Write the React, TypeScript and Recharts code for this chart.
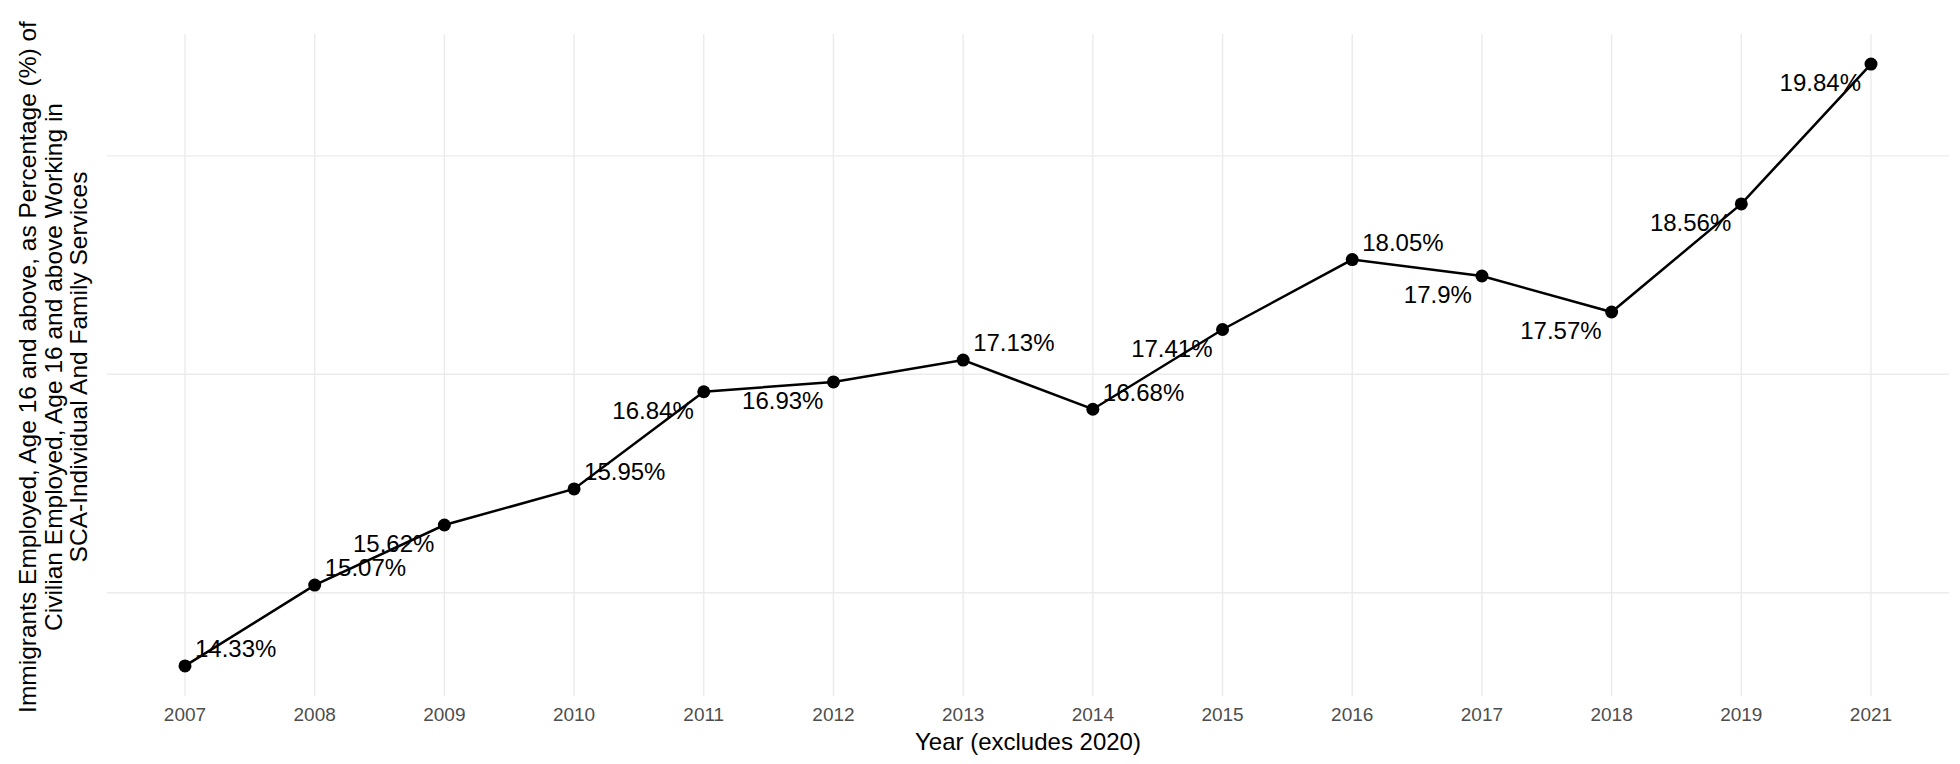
import React from 'react';
import { LineChart, Line, XAxis, YAxis, ReferenceLine, LabelList } from 'recharts';

// Share of employed immigrants (16+) working in SCA-Individual and Family Services, by year
const years = ['2007', '2008', '2009', '2010', '2011', '2012', '2013', '2014', '2015', '2016', '2017', '2018', '2019', '2021'];
const shares = [14.33, 15.07, 15.62, 15.95, 16.84, 16.93, 17.13, 16.68, 17.41, 18.05, 17.9, 17.57, 18.56, 19.84];
const yBreaks = [15, 17, 19];

// label placement per point: 'ar' = above right, 'bl' = below left
const labelSide = ['ar', 'ar', 'bl', 'ar', 'bl', 'bl', 'ar', 'ar', 'bl', 'ar', 'bl', 'bl', 'bl', 'bl'];

const yTitleLines = [
  'Immigrants Employed, Age 16 and above, as Percentage (%) of',
  'Civilian Employed, Age 16 and above Working in',
  'SCA-Individual And Family Services',
];

const FONT = '"Liberation Sans", Arial, Helvetica, sans-serif';
const WIDTH = 1960;
const HEIGHT = 764;
const GRID = '#ebebeb';

const data = years.map((year, i) => ({ year, value: shares[i] }));

// ggplot-style 5% expansion around the data range
const lo = Math.min(...shares);
const hi = Math.max(...shares);
const pad = (hi - lo) * 0.05;
const yDomain = [lo - pad, hi + pad];

const renderLabel = (props: any) => {
  const { x, y, value, index } = props;
  const above = labelSide[index] === 'ar';
  return (
    <text
      x={above ? x + 10 : x - 10}
      y={above ? y - 17 : y + 19}
      dy="0.35em"
      textAnchor={above ? 'start' : 'end'}
      fontSize={24}
      fontFamily={FONT}
      fill="#000"
    >
      {`${value}%`}
    </text>
  );
};

export default function App() {
  return (
    <div style={{ position: 'absolute', left: 0, top: 0, width: WIDTH, height: HEIGHT, background: '#fff', fontFamily: FONT }}>
      <LineChart
        width={WIDTH}
        height={HEIGHT}
        data={data}
        margin={{ top: 34, right: 11, bottom: 0, left: 107 }}
      >
        <XAxis
          dataKey="year"
          height={68}
          padding={{ left: 78, right: 78 }}
          tickLine={false}
          axisLine={false}
          tickMargin={6}
          interval={0}
          tick={{ fontSize: 19, fill: '#4d4d4d', fontFamily: FONT }}
          label={{ value: 'Year (excludes 2020)', position: 'insideBottom', offset: 14, fill: '#000', fontSize: 24, fontFamily: FONT }}
        />
        <YAxis
          type="number"
          domain={yDomain}
          ticks={yBreaks}
          allowDataOverflow
          hide
        />
        {/* panel grid: one vertical per year, horizontals at the major breaks */}
        {years.map((yr) => (
          <ReferenceLine key={`v${yr}`} x={yr} stroke={GRID} strokeWidth={1.4} />
        ))}
        {yBreaks.map((b) => (
          <ReferenceLine key={`h${b}`} y={b} stroke={GRID} strokeWidth={1.4} />
        ))}
        <Line
          type="linear"
          dataKey="value"
          stroke="#000"
          strokeWidth={2.5}
          dot={{ r: 6.5, fill: '#000', stroke: '#000', strokeWidth: 0 }}
          activeDot={false}
          isAnimationActive={false}
        >
          <LabelList dataKey="value" content={renderLabel} />
        </Line>
      </LineChart>
      <svg width={110} height={HEIGHT} style={{ position: 'absolute', left: 0, top: 0 }}>
        {yTitleLines.map((line, i) => (
          <text
            key={line}
            transform={`translate(${36 + i * 25.5}, 367) rotate(-90)`}
            textAnchor="middle"
            fontSize={24.5}
            fontFamily={FONT}
            fill="#000"
          >
            {line}
          </text>
        ))}
      </svg>
    </div>
  );
}
